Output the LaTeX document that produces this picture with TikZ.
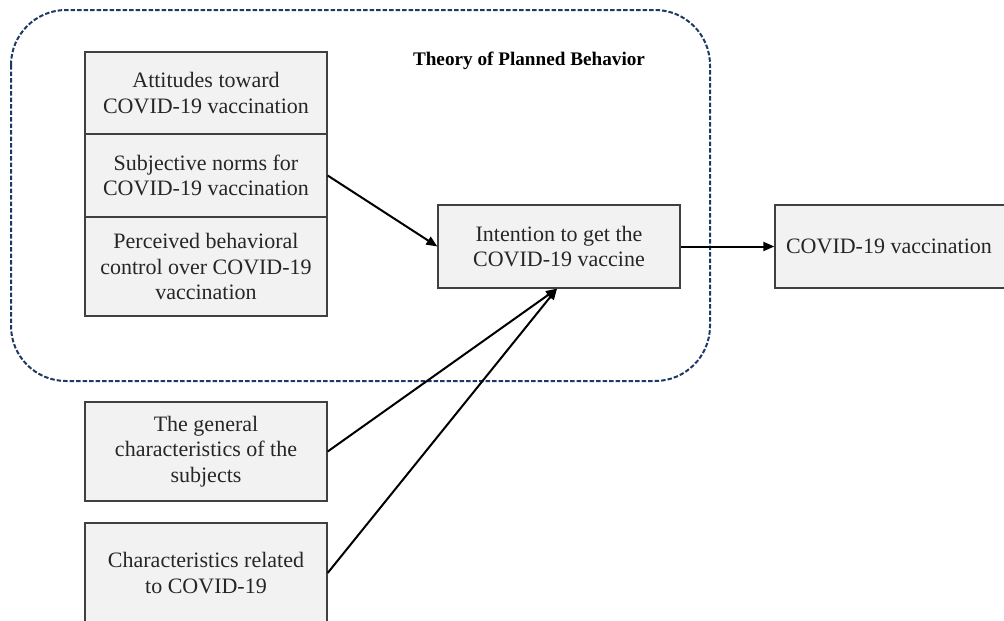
\documentclass[tikz,border=0pt]{standalone}
\usepackage{fontspec}
\setmainfont{Liberation Serif}
\usetikzlibrary{arrows.meta}
\definecolor{boxfill}{HTML}{F2F2F2}
\definecolor{boxline}{HTML}{404040}
\definecolor{navy}{HTML}{1F3864}
\begin{document}
\begin{tikzpicture}[x=1pt,y=-1pt,
  box/.style={draw=boxline, fill=boxfill, line width=1.3pt, inner sep=0pt,
    align=center, font=\rmfamily\fontsize{22}{25.5}\selectfont, text=black!85},
  conn/.style={line width=2pt, -{Triangle[length=11pt,width=9pt]}},
  group/.style={draw=navy, line width=2pt, dash pattern=on 4.5pt off 2pt, rounded corners=55pt}
]
\useasboundingbox (0,0) rectangle (1004,621);
\draw[group] (11,10) rectangle (710,381);
\node[font=\rmfamily\bfseries\fontsize{19.2}{22}\selectfont, inner sep=0pt] (title) at (529,61) {Theory of Planned Behavior};
\node[box, minimum width=242pt, minimum height=82pt] (att) at (206,93) {Attitudes toward\\COVID-19 vaccination};
\node[box, minimum width=242pt, minimum height=83pt] (sub) at (206,175.5) {Subjective norms for\\COVID-19 vaccination};
\node[box, minimum width=242pt, minimum height=99pt] (pbc) at (206,266.5) {Perceived behavioral\\control over COVID-19\\vaccination};
\node[box, minimum width=242pt, minimum height=83pt] (int) at (559,246.5) {Intention to get the\\COVID-19 vaccine};
\node[box, minimum width=232pt, minimum height=83pt] (vac) at (891,246.5) {\hspace*{-2pt}COVID-19 vaccination\hspace*{2pt}};
\node[box, minimum width=242pt, minimum height=99pt] (gen) at (206,451.5) {The general\\characteristics of the\\subjects};
\node[box, minimum width=242pt, minimum height=100pt] (cov) at (206,573) {Characteristics related\\to COVID-19};
\draw[conn] (sub.east) -- (int.west);
\draw[conn] (int.east) -- (vac.west);
\draw[conn] (gen.east) -- ([xshift=-2pt]int.south);
\draw[conn] (cov.east) -- ([xshift=-2pt]int.south);
\end{tikzpicture}
\end{document}
